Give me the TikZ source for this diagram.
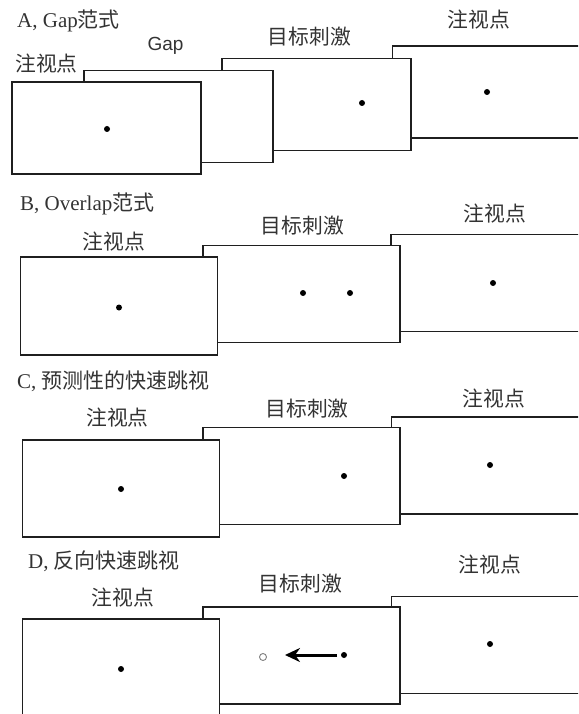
\documentclass[tikz,border=0pt]{standalone}
\usepackage{fontspec}
\setmainfont{Liberation Serif}
\newfontfamily\cjk{Noto Sans CJK SC}
\newfontfamily\arialf{Liberation Sans}
\usetikzlibrary{arrows.meta}
\begin{document}
\begin{tikzpicture}[x=1pt,y=-1pt,
  screen/.style={draw=black!88, line width=1.8pt, fill=white, inner sep=0pt},
  scrA/.style={screen, minimum width=189pt, minimum height=92pt},
  scrB/.style={screen, minimum width=197pt, minimum height=97pt},
  lbl/.style={inner sep=0pt, text=black!80, font=\cjk\fontsize{20.8}{20}\selectfont},
  ttl/.style={inner sep=0pt, anchor=west, text=black!80, font=\fontsize{21}{20}\selectfont},
  dotm/.style={circle, fill=black, inner sep=0pt, minimum size=6pt},
  odot/.style={circle, draw=black!50, line width=0.9pt, inner sep=0pt, minimum size=7pt},
  arr/.style={line width=3pt, -{Stealth[length=15pt,width=14pt]}}
]
\path[use as bounding box] (0,0) rectangle (578,714);
\clip (0,0) rectangle (578,714);

% ---------- A ----------
\node[ttl] (tA) at (17,21) {A, Gap{\cjk 范式}};
\node[scrA] (A4) at (487,92) {};
\node[scrA] (A3) at (316.5,104.5) {};
\node[scrA] (A2) at (178.5,116.5) {};
\node[scrA] (A1) at (106.5,128) {};
\node[dotm] (dA1) at (107,129) {};
\node[dotm] (dA3) at (362,103) {};
\node[dotm] (dA4) at (487,92) {};
\node[lbl] (lA1) at (46.5,63.5) {注视点};
\node[inner sep=0pt, text=black!80, font=\arialf\fontsize{19}{18}\selectfont] (lA2) at (165.5,45.5) {Gap};
\node[lbl] (lA3) at (309.5,36.5) {目标刺激};
\node[lbl] (lA4) at (479,20) {注视点};

% ---------- B ----------
\node[ttl] (tB) at (20,203.5) {B, Overlap{\cjk 范式}};
\node[scrB, minimum width=199pt] (B3) at (490.5,283) {};
\node[scrB] (B2) at (301.5,294) {};
\node[scrB, minimum height=98pt] (B1) at (119,306) {};
\node[dotm] (dB1) at (119,307.5) {};
\node[dotm] (dB2a) at (303,293) {};
\node[dotm] (dB2b) at (350,293) {};
\node[dotm] (dB3) at (493,283) {};
\node[lbl] (lB1) at (114,242) {注视点};
\node[lbl] (lB2) at (302.5,226) {目标刺激};
\node[lbl] (lB3) at (495,214) {注视点};

% ---------- C ----------
\node[ttl] (tC) at (17,381) {C, {\cjk 预测性的快速跳视}};
\node[scrB] (C3) at (490,465.5) {};
\node[scrB] (C2) at (301.5,476) {};
\node[scrB] (C1) at (121,488.5) {};
\node[dotm] (dC1) at (121,489) {};
\node[dotm] (dC2) at (344,476) {};
\node[dotm] (dC3) at (490,465) {};
\node[lbl] (lC1) at (117.5,418) {注视点};
\node[lbl] (lC2) at (307,409) {目标刺激};
\node[lbl] (lC3) at (494,399) {注视点};

% ---------- D ----------
\node[ttl] (tD) at (28,561.5) {D, {\cjk 反向快速跳视}};
\node[scrB] (D3) at (490,645) {};
\node[scrB] (D2) at (301.5,655.5) {};
\node[scrB] (D1) at (121,667.5) {};
\node[dotm] (dD1) at (121,669) {};
\node[dotm] (dD2) at (344,655) {};
\node[odot] (oD2) at (263,657) {};
\node[dotm] (dD3) at (490,644) {};
\coordinate (arS) at (337,655);
\coordinate (arE) at (285,655);
\draw[arr] (arS) -- (arE);
\node[lbl] (lD1) at (123,597.5) {注视点};
\node[lbl] (lD2) at (300.5,584) {目标刺激};
\node[lbl] (lD3) at (490,565) {注视点};
\end{tikzpicture}
\end{document}
